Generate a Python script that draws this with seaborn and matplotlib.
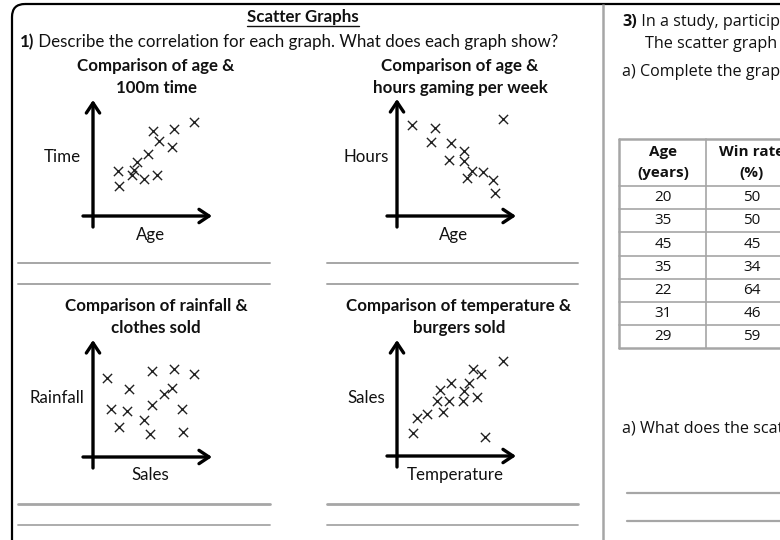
import matplotlib
matplotlib.use('Agg')
import matplotlib.pyplot as plt
import seaborn as sns
import pandas as pd
from matplotlib.patches import FancyBboxPatch

sns.set_theme(style='white')
LEFT_FONT = ['Lato', 'DejaVu Sans']
RIGHT_FONT = ['Open Sans', 'DejaVu Sans']
plt.rcParams['font.family'] = LEFT_FONT

# ---------------- data ----------------
plot_titles = [
    ["Comparison of age &", "100m time"],
    ["Comparison of age &", "hours gaming per week"],
    ["Comparison of rainfall &", "clothes sold"],
    ["Comparison of temperature &", "burgers sold"],
]
x_labels = ["Age", "Age", "Sales", "Temperature"]
y_labels = ["Time", "Hours", "Rainfall", "Sales"]

age_100m_x = [10.1, 8.1, 6.0, 6.6, 7.9, 5.5, 4.4, 2.5, 4.1, 3.9, 5.1, 6.4, 2.6]
age_100m_y = [9.4, 8.7, 8.5, 7.5, 6.9, 6.2, 5.4, 4.5, 4.6, 4.1, 3.7, 4.1, 3.0]

age_gaming_x = [1.5, 3.8, 10.6, 3.4, 5.4, 6.7, 5.2, 6.7, 7.5, 8.6, 7.0, 9.6, 9.8]
age_gaming_y = [9.1, 8.8, 9.7, 7.4, 7.3, 6.5, 5.6, 5.5, 4.5, 4.4, 3.8, 3.6, 2.3]

sales_rain_x = [1.4, 5.9, 8.1, 10.1, 3.6, 7.9, 7.1, 5.9, 1.8, 3.4, 8.9, 5.1, 2.6, 5.7, 9.0]
sales_rain_y = [7.9, 8.6, 8.8, 8.3, 6.8, 6.9, 6.3, 5.2, 4.8, 4.6, 4.8, 3.7, 3.0, 2.3, 2.5]

temp_burger_x = [10.6, 7.6, 8.4, 5.4, 7.2, 4.3, 6.7, 4.0, 5.2, 6.6, 8.0, 4.6, 3.0, 2.0, 1.6, 8.8]
temp_burger_y = [9.5, 8.7, 8.2, 7.3, 7.3, 6.6, 6.5, 5.5, 5.5, 5.5, 5.9, 4.4, 4.2, 3.8, 2.3, 1.9]

table_age = [20, 35, 45, 35, 22, 31, 29]
table_win = [50, 50, 45, 34, 64, 46, 59]

series = [
    (age_100m_x, age_100m_y),
    (age_gaming_x, age_gaming_y),
    (sales_rain_x, sales_rain_y),
    (temp_burger_x, temp_burger_y),
]

# ---------------- layout (pixels) ----------------
W, H = 780, 540
origins = [(93, 216), (397, 216), (93, 457), (397, 456)]
title_cx = [156, 460, 156, 459]
title_y = [(66, 88), (66, 88), (306, 328), (306, 328)]
ylab_pos = [(62, 157), (366, 157), (57, 398), (366, 398)]
xlab_pos = [(151, 235), (454, 235), (150, 475), (455, 475)]
arrow_tip_y = [11.6, 11.7, 11.7, 11.6]

FS = 12.2      # left panel font size
RFS = 11.6     # right panel text size
TFS = 11.0     # table font size

fig = plt.figure(figsize=(W / 100, H / 100), dpi=100)
fig.patch.set_facecolor('white')
bg = fig.add_axes([0, 0, 1, 1])
bg.set_xlim(0, W)
bg.set_ylim(H, 0)
bg.axis('off')

GREY = '#a6a6a6'
TXT = '#111111'

# frame
frame = FancyBboxPatch((12, 4), 1200, 1200, boxstyle='round,pad=0,rounding_size=13',
                       fill=False, edgecolor='black', linewidth=1.6)
bg.add_patch(frame)
bg.plot([603, 603], [4, 545], color=GREY, lw=1.8, solid_capstyle='butt')

# header
t_head = bg.text(303, 17, "Scatter Graphs", ha='center', va='center', fontsize=FS,
                 fontweight='bold', color=TXT)
t1 = bg.text(20, 42, "1)", ha='left', va='center', fontsize=FS, fontweight='bold', color=TXT)
bg.annotate(" Describe the correlation for each graph. What does each graph show?",
            xy=(1, 0), xycoords=t1, ha='left', va='bottom', fontsize=FS, color=TXT)

# separator lines (left panel)
for (x0, x1) in [(18, 270), (327, 578)]:
    bg.plot([x0, x1], [263, 263], color=GREY, lw=1.4)
    bg.plot([x0, x1], [284, 284], color=GREY, lw=1.4)
    bg.plot([x0, x1], [504, 504], color=GREY, lw=2.0)
    bg.plot([x0, x1], [525, 525], color=GREY, lw=1.3)

# scatter panels
for i, ((ox, oy), (xs, ys)) in enumerate(zip(origins, series)):
    ax = fig.add_axes([(ox - 15) / W, 1 - (oy + 15) / H, 140 / W, 140 / H])
    ax.set_xlim(-1.5, 12.5)
    ax.set_ylim(-1.5, 12.5)
    ax.axis('off')
    df = pd.DataFrame({'x': xs, 'y': ys})
    sns.scatterplot(data=df, x='x', y='y', marker='x', s=44, color='#222222',
                    linewidth=1.0, ax=ax, legend=False)
    ap = dict(arrowstyle='->,head_length=0.45,head_width=0.3', lw=2.4, color='black',
              shrinkA=0, shrinkB=0, mutation_scale=16)
    ax.annotate('', xy=(0, arrow_tip_y[i]), xytext=(0, -1.1), arrowprops=ap)
    ax.annotate('', xy=(11.9, 0), xytext=(-1.0, 0), arrowprops=ap)

    bg.text(title_cx[i], title_y[i][0], plot_titles[i][0], ha='center', va='center',
            fontsize=FS, fontweight='bold', color=TXT)
    bg.text(title_cx[i], title_y[i][1], plot_titles[i][1], ha='center', va='center',
            fontsize=FS, fontweight='bold', color=TXT)
    bg.text(*ylab_pos[i], y_labels[i], ha='center', va='center', fontsize=FS, color=TXT)
    bg.text(*xlab_pos[i], x_labels[i], ha='center', va='center', fontsize=FS, color=TXT)

# ---------------- right panel ----------------
t3 = bg.text(622, 22, "3)", ha='left', va='center', fontsize=RFS, fontweight='bold',
             color=TXT, family=RIGHT_FONT)
bg.annotate(" In a study, participants played a game.", xy=(1, 0), xycoords=t3,
            ha='left', va='bottom', fontsize=RFS, color=TXT, family=RIGHT_FONT)
bg.text(645, 44, "The scatter graph shows their results.", ha='left', va='center',
        fontsize=RFS, color=TXT, family=RIGHT_FONT)
bg.text(622, 72, "a) Complete the graph using the table.", ha='left', va='center',
        fontsize=RFS, color=TXT, family=RIGHT_FONT)
bg.text(622, 429, "a) What does the scatter graph show?", ha='left', va='center',
        fontsize=RFS, color=TXT, family=RIGHT_FONT)
bg.plot([627, 790], [493, 493], color=GREY, lw=1.6)
bg.plot([627, 790], [521, 521], color=GREY, lw=1.6)

# table
tx0, tx1, tcol = 619, 800, 706
ty_top, ty_head = 139, 186
row_h = 23.2
n = len(table_age)
ty_bot = ty_head + n * row_h
bg.plot([tx0, tx1], [ty_top, ty_top], color=GREY, lw=1.8)
bg.plot([tx0, tx1], [ty_bot, ty_bot], color=GREY, lw=1.8)
bg.plot([tx0, tx0], [ty_top, ty_bot], color=GREY, lw=1.8)
bg.plot([tcol, tcol], [ty_top, ty_bot], color=GREY, lw=1.2)
for r in range(n):
    yy = ty_head + r * row_h
    bg.plot([tx0, tx1], [yy, yy], color=GREY, lw=1.2)
c1, c2 = 663, 752
bg.text(c1, 152, "Age", ha='center', va='center', fontsize=TFS, fontweight='bold',
        color=TXT, family=RIGHT_FONT)
bg.text(c1, 173, "(years)", ha='center', va='center', fontsize=TFS, fontweight='bold',
        color=TXT, family=RIGHT_FONT)
bg.text(c2, 152, "Win rate", ha='center', va='center', fontsize=TFS, fontweight='bold',
        color=TXT, family=RIGHT_FONT)
bg.text(c2, 173, "(%)", ha='center', va='center', fontsize=TFS, fontweight='bold',
        color=TXT, family=RIGHT_FONT)
for r, (a, w) in enumerate(zip(table_age, table_win)):
    yc = ty_head + (r + 0.5) * row_h
    bg.text(c1, yc, str(a), ha='center', va='center', fontsize=TFS, color=TXT,
            family=RIGHT_FONT)
    bg.text(c2, yc, str(w), ha='center', va='center', fontsize=TFS, color=TXT,
            family=RIGHT_FONT)

# underline for header
fig.canvas.draw()
bb = t_head.get_window_extent().transformed(bg.transData.inverted())
bg.plot([bb.x0, bb.x1], [26, 26], color=TXT, lw=1.0)

fig.savefig('out.png', dpi=100, facecolor='white')
